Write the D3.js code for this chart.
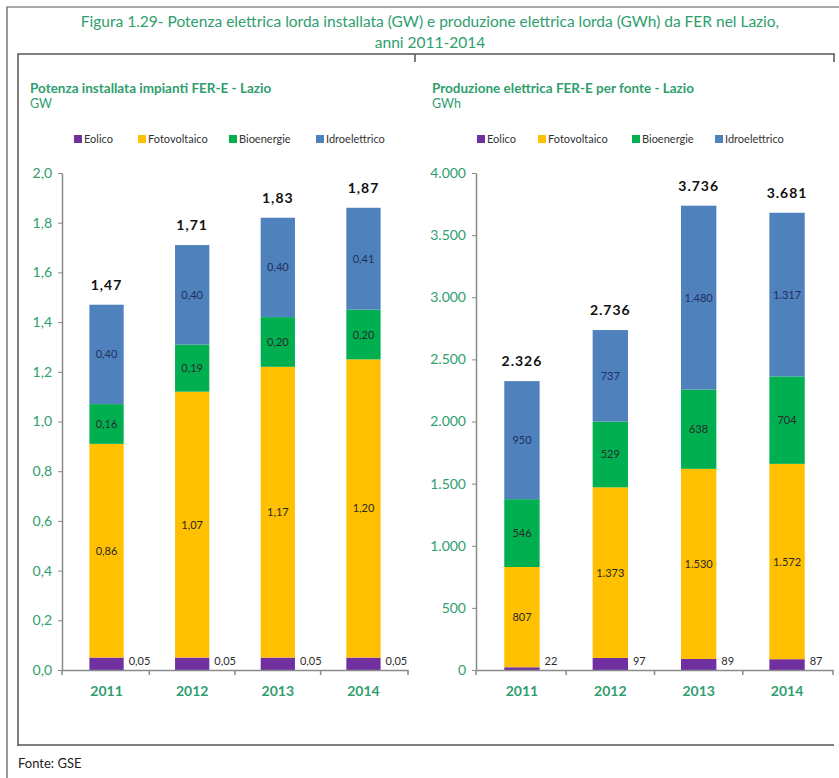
<!DOCTYPE html>
<html>
<head>
<meta charset="utf-8">
<script src="https://cdn.jsdelivr.net/npm/d3@7"></script>
<style>
  body { margin: 0; background: #fff; }
  svg { font-family: Lato, "Open Sans", sans-serif; }
</style>
</head>
<body>
<div id="chart"></div>
<script>
// data
var years = ["2011", "2012", "2013", "2014"]
var sources = ["Eolico", "Fotovoltaico", "Bioenergie", "Idroelettrico"]
var colors = ["#7030a0", "#ffc000", "#00b050", "#4f81bd"]

// potenza installata (GW)
var gwEolico = [0.05, 0.05, 0.05, 0.05]
var gwFoto = [0.86, 1.07, 1.17, 1.20]
var gwBio = [0.16, 0.19, 0.20, 0.20]
var gwIdro = [0.40, 0.40, 0.40, 0.41]
var gwTotals = [1.47, 1.71, 1.83, 1.87]
var gwTicks = [0, 0.2, 0.4, 0.6, 0.8, 1.0, 1.2, 1.4, 1.6, 1.8, 2.0]

// produzione (GWh)
var gwhEolico = [22, 97, 89, 87]
var gwhFoto = [807, 1373, 1530, 1572]
var gwhBio = [546, 529, 638, 704]
var gwhIdro = [950, 737, 1480, 1317]
var gwhTotals = [2326, 2736, 3736, 3681]
var gwhTicks = [0, 500, 1000, 1500, 2000, 2500, 3000, 3500, 4000]

var it = d3.formatLocale({ decimal: ",", thousands: ".", grouping: [3], currency: ["€", ""] })
var green = "#2f9e6e"
var axisGray = "#8a8a8a"

var svg = d3.select("#chart").append("svg")
  .attr("width", 839)
  .attr("height", 778)

// frame
svg.append("path").attr("fill", "none").attr("stroke", "#555").attr("stroke-width", 1.2)
  .attr("d", "M7,778 V7 H839")
svg.append("path").attr("fill", "none").attr("stroke", "#555").attr("stroke-width", 1.5)
  .attr("d", "M18,746 V54 H834 V62 M415,54 V62 M18,745 H834")

svg.append("text").attr("x", 430).attr("y", 27).attr("text-anchor", "middle")
  .attr("fill", green).style("font-size", "15.5px")
  .text("Figura 1.29- Potenza elettrica lorda installata (GW) e produzione elettrica lorda (GWh) da FER nel Lazio,")
svg.append("text").attr("x", 430).attr("y", 48).attr("text-anchor", "middle")
  .attr("fill", green).style("font-size", "15.5px")
  .text("anni 2011-2014")
svg.append("text").attr("x", 18).attr("y", 768)
  .attr("fill", "#222").style("font-size", "13px")
  .text("Fonte: GSE")

function drawPanel(opt) {
  var g = svg.append("g")
  var rows = years.map(function (y, i) {
    return { year: y, Eolico: opt.series[0][i], Fotovoltaico: opt.series[1][i],
      Bioenergie: opt.series[2][i], Idroelettrico: opt.series[3][i], total: opt.totals[i] }
  })
  var stack = d3.stack().keys(sources)(rows)

  var x = d3.scaleBand().domain(years).range([opt.x0, opt.x1]).paddingInner(0.6).paddingOuter(0.32)
  var y = d3.scaleLinear().domain([0, opt.max]).range([670, 173])

  // titles
  g.append("text").attr("x", opt.titleX).attr("y", 93).attr("fill", green)
    .style("font-size", "13.5px").style("font-weight", "bold").text(opt.title)
  g.append("text").attr("x", opt.titleX).attr("y", 108).attr("fill", green)
    .style("font-size", "12.5px").text(opt.unit)

  // legend
  var lg = g.selectAll(".lg").data(sources).enter().append("g")
    .attr("transform", function (d, i) { return "translate(" + opt.legendX[i] + ",135)" })
  lg.append("rect").attr("width", 8).attr("height", 8).attr("y", 0)
    .attr("fill", function (d, i) { return colors[i] })
  lg.append("text").attr("x", 10).attr("y", 8).attr("fill", "#333")
    .style("font-size", "11px").text(function (d) { return d })

  // bars
  var layers = g.selectAll(".layer").data(stack).enter().append("g")
    .attr("fill", function (d, i) { return colors[i] })
  layers.selectAll("rect").data(function (d) { return d }).enter().append("rect")
    .attr("x", function (d) { return x(d.data.year) })
    .attr("width", x.bandwidth())
    .attr("y", function (d) { return y(d[1]) })
    .attr("height", function (d) { return y(d[0]) - y(d[1]) })

  // segment labels (not Eolico)
  stack.slice(1).forEach(function (layer, k) {
    g.selectAll(".sl" + k).data(layer).enter().append("text")
      .attr("x", function (d) { return x(d.data.year) + x.bandwidth() / 2 })
      .attr("y", function (d) { return (y(d[0]) + y(d[1])) / 2 + 4 })
      .attr("text-anchor", "middle")
      .attr("fill", k === 2 ? "#1f3060" : "#2a2a2a")
      .style("font-size", "11px")
      .text(function (d) { return opt.fmt(d[1] - d[0]) })
  })

  // Eolico labels beside the bar
  g.selectAll(".eo").data(stack[0]).enter().append("text")
    .attr("x", function (d) { return x(d.data.year) + x.bandwidth() + 5 })
    .attr("y", function (d) { return y(0) - 5 })
    .attr("fill", "#2a2a2a").style("font-size", "11px")
    .text(function (d) { return opt.fmt(d[1] - d[0]) })

  // totals
  g.selectAll(".tot").data(rows).enter().append("text")
    .attr("x", function (d) { return x(d.year) + x.bandwidth() / 2 })
    .attr("y", function (d, i) { return y(stack[3][i][1]) - 15 })
    .attr("text-anchor", "middle").attr("fill", "#111")
    .style("font-size", "14px").style("font-weight", "bold").style("letter-spacing", "1px")
    .text(function (d) { return opt.fmt(d.total) })

  // y axis
  var ya = g.append("g").attr("transform", "translate(" + opt.x0 + ",0)")
    .call(d3.axisLeft(y).tickValues(opt.ticks).tickSize(4).tickSizeOuter(0).tickFormat(opt.tickFmt))
  ya.select(".domain").attr("stroke", axisGray).attr("stroke-width", 1.5)
  ya.selectAll(".tick line").attr("stroke", axisGray)
  ya.selectAll(".tick text").attr("fill", green).attr("x", -10)
    .style("font-size", "14px").style("font-family", "Lato, sans-serif")

  // x axis
  var xa = g.append("g").attr("transform", "translate(0,670)")
    .call(d3.axisBottom(x).tickSize(0).tickPadding(16))
  xa.select(".domain").attr("stroke", axisGray).attr("stroke-width", 1.5)
  xa.selectAll(".tick text").attr("fill", green)
    .style("font-size", "14px").style("font-weight", "bold").style("font-family", "Lato, sans-serif")
  var bounds = years.map(function (d) { return x(d) - x.step() * x.paddingInner() / 2 })
  bounds[0] = opt.x0
  bounds.push(opt.x1)
  g.selectAll(".bt").data(bounds).enter().append("line")
    .attr("x1", function (d) { return d }).attr("x2", function (d) { return d })
    .attr("y1", 670).attr("y2", 675).attr("stroke", axisGray).attr("stroke-width", 1.5)
}

var fmtGW = it.format(".2f")
var fmtGWh = it.format(",d")

drawPanel({
  series: [gwEolico, gwFoto, gwBio, gwIdro], totals: gwTotals, max: 2, ticks: gwTicks,
  x0: 62, x1: 408, title: "Potenza installata impianti FER-E - Lazio", unit: "GW", titleX: 30,
  legendX: [74, 138, 229, 316], fmt: fmtGW, tickFmt: it.format(".1f")
})
drawPanel({
  series: [gwhEolico, gwhFoto, gwhBio, gwhIdro], totals: gwhTotals, max: 4000, ticks: gwhTicks,
  x0: 476, x1: 833, title: "Produzione elettrica FER-E per fonte - Lazio", unit: "GWh", titleX: 432,
  legendX: [477, 538, 632, 715], fmt: fmtGWh, tickFmt: fmtGWh
})
</script>
</body>
</html>
